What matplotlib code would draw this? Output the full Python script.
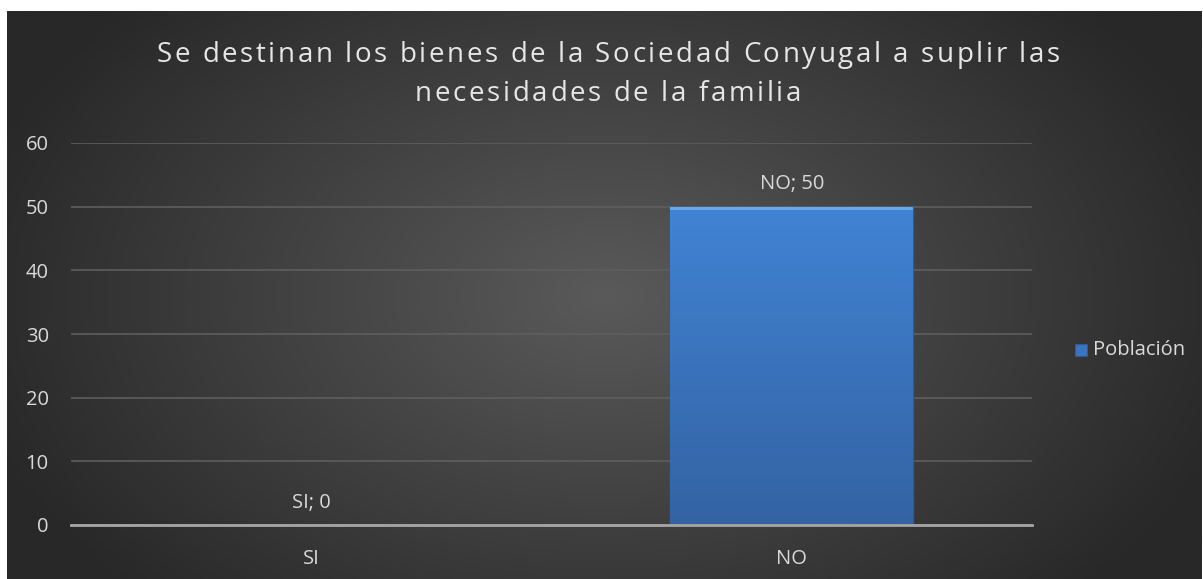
import numpy as np
import matplotlib
matplotlib.use("Agg")
import matplotlib.pyplot as plt
from matplotlib.patches import Rectangle
from matplotlib.font_manager import FontProperties, findfont, get_font

categories = ["SI", "NO"]
values = [0, 50]
series_name = "Población"
title_lines = ["Se destinan los bienes de la Sociedad Conyugal a suplir las",
               "necesidades de la familia"]
yticks = [0, 10, 20, 30, 40, 50, 60]

W, H = 1203, 579
DPI = 100
fig = plt.figure(figsize=(W / DPI, H / DPI), dpi=DPI, facecolor="white")

# dark radial gradient panel
bg = fig.add_axes([7 / W, 0, (W - 8) / W, (H - 11) / H])
ny, nx = 200, 400
yy, xx = np.mgrid[0:ny, 0:nx]
cx, cy = nx * 0.5, ny * 0.5
r = np.sqrt(((xx - cx) / (nx * 0.55)) ** 2 + ((yy - cy) / (ny * 0.75)) ** 2)
r = np.clip(r, 0, 1)
inner = np.array([0x5a, 0x5a, 0x5a]) / 255
outer = np.array([0x28, 0x28, 0x28]) / 255
img = inner[None, None, :] * (1 - r[..., None]) + outer[None, None, :] * r[..., None]
bg.imshow(img, aspect="auto", extent=[0, 1, 0, 1], interpolation="bilinear")
bg.set_axis_off()

FONT = "Open Sans"
FS = 14.5
TXT = "#d9d9d9"

ax = fig.add_axes([71 / W, 54 / H, (1032 - 71) / W, 382 / H])
ax.patch.set_alpha(0)
x = np.arange(len(categories))
bars = ax.bar(x, values, width=0.505, color="#3b74c0", edgecolor="#2d5a95", linewidth=1.0, zorder=3)

# vertical gradient inside bars
grad = np.linspace(0, 1, 100)[:, None]
top = np.array([0x41, 0x83, 0xd4]) / 255
bot = np.array([0x33, 0x63, 0xa3]) / 255
gimg = top[None, None, :] * (1 - grad[..., None]) + bot[None, None, :] * grad[..., None]
for b in bars:
    if b.get_height() <= 0:
        continue
    x0, y0, w, h = b.get_x(), b.get_y(), b.get_width(), b.get_height()
    im = ax.imshow(gimg, extent=[x0, x0 + w, y0, y0 + h], aspect="auto", zorder=3.5,
                   interpolation="bilinear")
    im.set_clip_path(b)
    ax.add_patch(Rectangle((x0, y0 + h - h * 0.012), w, h * 0.012, color="#6aa8ec",
                           zorder=4, lw=0))

ax.set_xlim(-0.5, len(categories) - 0.5)
ax.set_ylim(0, 60)
ax.set_yticks(yticks)
ax.set_xticks(x)
ax.set_xticklabels(categories)
for s in ["top", "right", "left"]:
    ax.spines[s].set_visible(False)
ax.spines["bottom"].set_color("#a6a6a6")
ax.spines["bottom"].set_linewidth(2)
ax.spines["bottom"].set_zorder(5)
ax.grid(axis="y", color="#5e5e5e", linewidth=1.2, zorder=1)
ax.set_axisbelow(True)
ax.tick_params(axis="both", length=0, colors=TXT, labelsize=FS)
ax.tick_params(axis="y", pad=16)
ax.tick_params(axis="x", pad=17)
for lab in ax.get_xticklabels() + ax.get_yticklabels():
    lab.set_fontfamily(FONT)

for xi, v, c in zip(x, values, categories):
    ax.annotate(f"{c}; {v}", (xi, v), xytext=(0, 16), textcoords="offset points",
                ha="center", va="center", color=TXT, fontsize=FS, family=FONT)

# title with letter spacing
TFS = 20
prop = FontProperties(family=FONT, size=TFS)
font = get_font(findfont(prop))
font.set_size(TFS, DPI)
def advances(s):
    return [font.load_char(ord(ch)).linearHoriAdvance / 65536 for ch in s]

title_center = 608
title_baselines = [62, 101]
spacing = 2.6
for line, base in zip(title_lines, title_baselines):
    adv = advances(line)
    total = sum(adv) + spacing * (len(line) - 1)
    xpos = title_center - total / 2
    for ch, a in zip(line, adv):
        if ch != " ":
            fig.text(xpos / W, 1 - base / H, ch, ha="left", va="baseline", color="#e6e6e6",
                     fontsize=TFS, family=FONT)
        xpos += a + spacing

# legend
fig.patches.append(Rectangle((1075 / W, 1 - 356 / H), 12 / W, 12 / H, transform=fig.transFigure,
                             facecolor="#3b74c0", edgecolor="#2d5a95", lw=0.8))
fig.text(1093 / W, 1 - 350 / H, series_name, ha="left", va="center", color=TXT,
         fontsize=FS, family=FONT)

fig.savefig("out.png", dpi=DPI, facecolor="white")
